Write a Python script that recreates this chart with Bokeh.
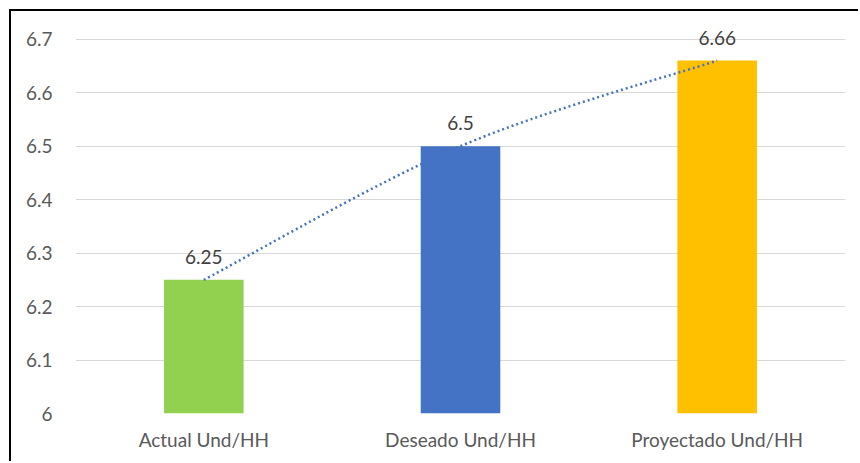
from bokeh.plotting import figure
from bokeh.models import ColumnDataSource, Range1d, FixedTicker
from bokeh.embed import file_html
from bokeh.resources import INLINE
from bokeh.core.properties import value

categories = ["Actual Und/HH", "Deseado Und/HH", "Proyectado Und/HH"]
values = [6.25, 6.5, 6.66]
colors = ["#92D050", "#4472C4", "#FFC000"]
labels = ["6.25", "6.5", "6.66"]
y_ticks = [6.0, 6.1, 6.2, 6.3, 6.4, 6.5, 6.6, 6.7]
y_tick_labels = ["6", "6.1", "6.2", "6.3", "6.4", "6.5", "6.6", "6.7"]

xs = list(range(len(categories)))
FONT = "Lato"

p = figure(width=849, height=452, output_backend="svg", toolbar_location=None,
           x_range=Range1d(-0.5, 2.5), y_range=Range1d(6.0, 6.75),
           min_border_left=64, min_border_right=15, min_border_top=1, min_border_bottom=50)
p.margin = (9, 0, 0, 9)
p.styles = {"border-left": "2px solid #000", "border-top": "2px solid #000"}
p.outline_line_color = None
p.background_fill_color = "white"
p.border_fill_color = "white"

src = ColumnDataSource(dict(x=xs, top=values, color=colors, label=labels))
p.vbar(x="x", top="top", bottom=6.0, width=0.31, fill_color="color", line_color=None, source=src)

# smoothed line through the bar tops (Catmull-Rom style Bezier segments)
x0, y0, x1, y1, cx0, cy0, cx1, cy1 = [], [], [], [], [], [], [], []
n = len(values)
for i in range(n - 1):
    pm = (xs[max(i - 1, 0)], values[max(i - 1, 0)])
    pa = (xs[i], values[i])
    pb = (xs[i + 1], values[i + 1])
    pn = (xs[min(i + 2, n - 1)], values[min(i + 2, n - 1)])
    x0.append(pa[0]); y0.append(pa[1]); x1.append(pb[0]); y1.append(pb[1])
    cx0.append(pa[0] + (pb[0] - pm[0]) / 6); cy0.append(pa[1] + (pb[1] - pm[1]) / 6)
    cx1.append(pb[0] - (pn[0] - pa[0]) / 6); cy1.append(pb[1] - (pn[1] - pa[1]) / 6)
p.bezier(x0=x0, y0=y0, x1=x1, y1=y1, cx0=cx0, cy0=cy0, cx1=cx1, cy1=cy1,
         line_color="#4472C4", line_width=2.5, line_dash="2 3")

p.text(x="x", y="top", text="label", source=src, text_align="center", text_baseline="bottom",
       y_offset=-16, text_font=value(FONT), text_font_size="19px", text_color="#404040")

p.xgrid.grid_line_color = None
p.ygrid.grid_line_color = "#D9D9D9"
p.ygrid.grid_line_width = 1
p.yaxis.ticker = FixedTicker(ticks=y_ticks)
p.yaxis.major_label_overrides = {t: l for t, l in zip(y_ticks, y_tick_labels)}
p.xaxis.ticker = FixedTicker(ticks=xs)
p.xaxis.major_label_overrides = {x: c for x, c in zip(xs, categories)}

for ax in (p.xaxis[0], p.yaxis[0]):
    ax.axis_line_color = None
    ax.major_tick_line_color = None
    ax.minor_tick_line_color = None
    ax.major_label_text_font = FONT
    ax.major_label_text_color = "#595959"
    ax.major_label_text_font_size = "19px"
p.yaxis.major_label_standoff = 17
p.xaxis.major_label_standoff = 8

open("out.html", "w").write(file_html(p, INLINE))
